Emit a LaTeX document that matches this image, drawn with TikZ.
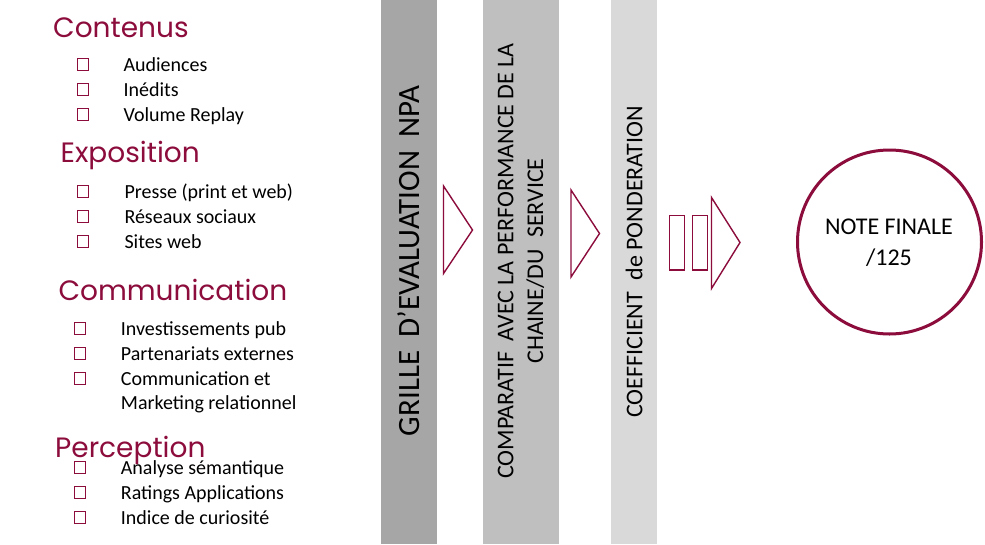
\documentclass[tikz,border=0pt]{standalone}
\usepackage{fontspec}
\setmainfont{Carlito}
\newfontfamily\headfont{Poppins}
\definecolor{maroon}{RGB}{140,12,60}
\definecolor{barA}{RGB}{166,166,166}
\definecolor{barB}{RGB}{191,191,191}
\definecolor{barC}{RGB}{217,217,217}
\tikzset{
  head/.style={anchor=base west,inner sep=0pt,text=maroon,font=\headfont\fontsize{28}{32}\selectfont},
  item/.style={anchor=base west,inner sep=0pt,text=black,font=\fontsize{20}{24}\selectfont},
  bbox/.style={draw=maroon,line width=0.9pt},
  bar/.style={draw=none},
  vtext/.style={rotate=90,inner sep=0pt,text=black,align=center},
  tri/.style={draw=maroon,line width=1.4pt,line join=miter},
}
\begin{document}
\begin{tikzpicture}[x=1pt,y=-1pt]
\useasboundingbox (0,0) rectangle (985,544);
\fill[white] (0,0) rectangle (985,544);
% bars
\fill[barA] (381,0) rectangle (437,544);
\fill[barB] (483,0) rectangle (559,544);
\fill[barC] (611,0) rectangle (657,544);
\node[vtext,font=\fontsize{31}{36}\selectfont] (grille) at (409,261) {GRILLE\hspace{0.2em} D’EVALUATION\hspace{0.2em} NPA};
\node[vtext,font=\fontsize{24}{29.7}\selectfont] (comp) at (521,261) {COMPARATIF\hspace{0.2em} AVEC LA PERFORMANCE DE LA\\CHAINE/DU\hspace{0.25em} SERVICE};
\node[vtext,font=\fontsize{24}{29}\selectfont] (coef) at (634,262) {COEFFICIENT\hspace{0.25em} de PONDERATION};
% arrows
\draw[tri] (443.5,186) -- (472.5,230) -- (443.5,273.5) -- cycle;
\draw[tri] (571,190) -- (599.5,233.5) -- (571,277) -- cycle;
\draw[tri] (669.5,215.5) rectangle (684.5,270);
\draw[tri] (692.5,215.5) rectangle (707.5,270);
\draw[tri] (711.5,197.5) -- (740,242.5) -- (711.5,288.5) -- cycle;
% circle
\draw[maroon,line width=3pt] (889.5,242) circle[radius=92];
\node[align=center,inner sep=0pt,font=\fontsize{24}{31}\selectfont] (note) at (889,243) {NOTE FINALE\\/125};
% Contenus
\node[head] (h1) at (53,37) {Contenus};
\foreach \yy/\t [count=\i] in {71.7/Audiences,96.7/Inédits,121.7/Volume Replay}{
  \draw[bbox] (77,\yy-13) rectangle (88,\yy-1);
  \node[item] (c\i) at (123.3,\yy) {\t};
}
% Exposition
\node[head] (h2) at (60.5,162.7) {Exposition};
\foreach \yy/\t [count=\i] in {198.3/Presse (print et web),223.3/Réseaux sociaux,248.3/Sites web}{
  \draw[bbox] (77.5,\yy-13) rectangle (88.5,\yy-1);
  \node[item] (e\i) at (124.3,\yy) {\t};
}
% Communication
\node[head] (h3) at (58.3,300.7) {Communication};
\foreach \yy/\t [count=\i] in {335.7/Investissements pub,360.7/Partenariats externes,385.7/Communication et}{
  \draw[bbox] (74,\yy-13) rectangle (85,\yy-1);
  \node[item] (m\i) at (120.7,\yy) {\t};
}
\node[item] (m4) at (120.7,409.5) {Marketing relationnel};
% Perception
\node[head] (h4) at (55,457.7) {Perception};
\foreach \yy/\t [count=\i] in {474/Analyse sémantique,499.3/Ratings Applications,524/Indice de curiosité}{
  \draw[bbox] (74,\yy-13) rectangle (85,\yy-1);
  \node[item] (p\i) at (120.7,\yy) {\t};
}
\end{tikzpicture}
\end{document}
